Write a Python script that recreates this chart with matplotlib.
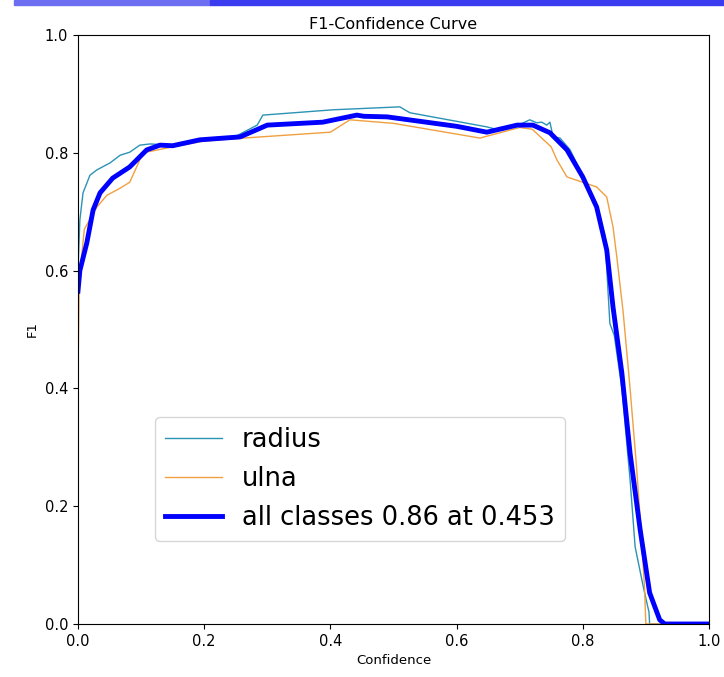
import matplotlib
matplotlib.use("Agg")
import matplotlib.pyplot as plt
from matplotlib.patches import Rectangle

# values
radius_x = [0.0, 0.003, 0.008, 0.019, 0.03, 0.051, 0.067, 0.082, 0.098, 0.114, 0.15, 0.2, 0.25,
            0.284, 0.293, 0.404, 0.51, 0.526, 0.648, 0.67, 0.70, 0.716, 0.727, 0.735, 0.743,
            0.748, 0.753, 0.764, 0.78, 0.80, 0.822, 0.835, 0.843, 0.85, 0.862, 0.875, 0.883,
            0.896, 0.905, 0.906, 1.0]
radius_y = [0.60, 0.686, 0.732, 0.762, 0.771, 0.783, 0.796, 0.801, 0.813, 0.815, 0.813, 0.823, 0.828,
            0.847, 0.864, 0.873, 0.878, 0.868, 0.844, 0.838, 0.848, 0.856, 0.851, 0.852, 0.847,
            0.852, 0.827, 0.825, 0.805, 0.76, 0.705, 0.66, 0.51, 0.49, 0.40, 0.245, 0.131,
            0.063, 0.02, 0.0, 0.0]

ulna_x = [0.0, 0.002, 0.01, 0.03, 0.046, 0.067, 0.082, 0.093, 0.103, 0.15, 0.2, 0.262, 0.40,
          0.431, 0.50, 0.637, 0.70, 0.72, 0.75, 0.759, 0.775, 0.822, 0.838, 0.848, 0.854,
          0.864, 0.875, 0.885, 0.893, 0.898, 0.9, 1.0]
ulna_y = [0.42, 0.58, 0.67, 0.708, 0.728, 0.74, 0.75, 0.776, 0.80, 0.81, 0.82, 0.825, 0.835,
          0.856, 0.85, 0.825, 0.843, 0.84, 0.81, 0.788, 0.759, 0.742, 0.725, 0.674, 0.623,
          0.53, 0.40, 0.27, 0.15, 0.06, 0.0, 0.0]

all_x = [0.0, 0.003, 0.014, 0.024, 0.035, 0.055, 0.082, 0.109, 0.13, 0.15, 0.193, 0.257, 0.30,
         0.388, 0.442, 0.453, 0.49, 0.60, 0.648, 0.696, 0.721, 0.748, 0.775, 0.80, 0.822,
         0.838, 0.848, 0.862, 0.875, 0.891, 0.906, 0.922, 0.93, 1.0]
all_y = [0.565, 0.60, 0.647, 0.703, 0.732, 0.757, 0.776, 0.805, 0.813, 0.812, 0.822, 0.827, 0.847,
         0.852, 0.864, 0.862, 0.861, 0.845, 0.835, 0.847, 0.847, 0.834, 0.805, 0.759, 0.708,
         0.635, 0.538, 0.426, 0.29, 0.16, 0.053, 0.007, 0.0, 0.0]

best_f1 = 0.86
best_conf = 0.453

fig = plt.figure(figsize=(7.24, 6.77), dpi=100)
ax = fig.add_axes([0.1077, 0.0783, 0.8715, 0.8700])

ax.plot(radius_x, radius_y, color="#2b93b5", linewidth=1, label="radius")
ax.plot(ulna_x, ulna_y, color="#f0a040", linewidth=1, label="ulna")
ax.plot(all_x, all_y, color="blue", linewidth=3.5,
        label=f"all classes {best_f1:.2f} at {best_conf:.3f}")

ax.set_xlim(0, 1)
ax.set_ylim(0, 1)
ax.tick_params(labelsize=10.5)
ax.set_xlabel("Confidence", fontsize=9.5)
ax.set_ylabel("F1", fontsize=9.5)
ax.set_title("F1-Confidence Curve", fontsize=11.5, pad=4)

ax.legend(loc="center", bbox_to_anchor=(0.447, 0.246), fontsize=18.5,
          handlelength=2.2, labelspacing=0.5, borderpad=0.4)

# blue strip along the top edge of the screenshot
fig.patches.append(Rectangle((0.02, 0.993), 0.27, 0.007, transform=fig.transFigure,
                             color="#6e6ef2", zorder=0))
fig.patches.append(Rectangle((0.29, 0.993), 0.71, 0.007, transform=fig.transFigure,
                             color="#3b3bf0", zorder=0))

fig.savefig("out.png", dpi=100)
